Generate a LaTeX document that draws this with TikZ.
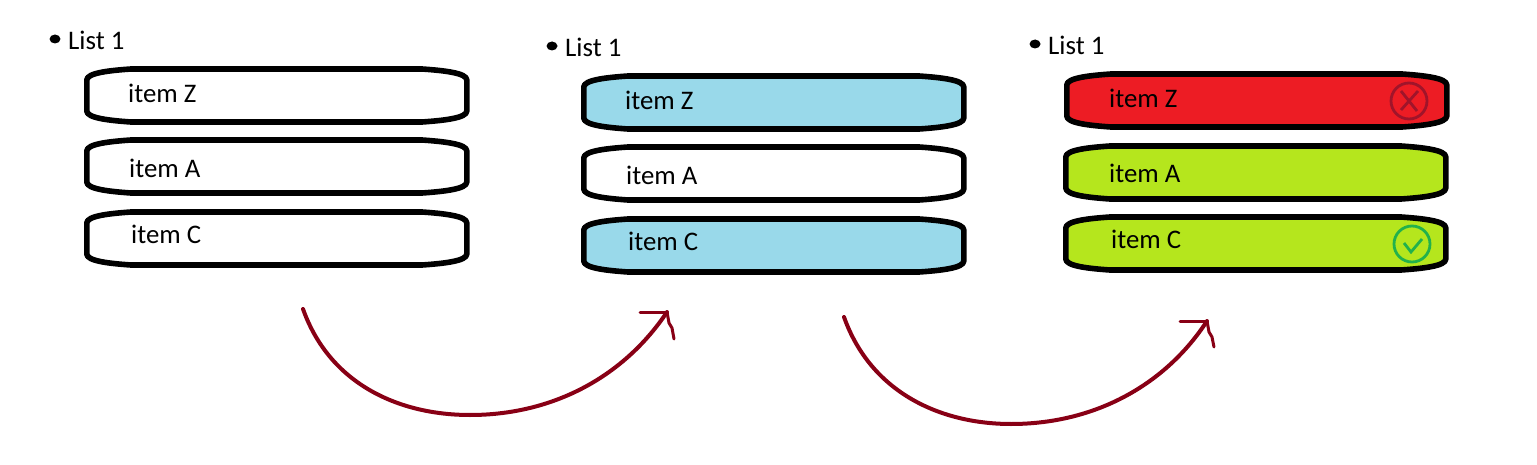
\documentclass[tikz,border=0pt]{standalone}
\usepackage{fontspec}
\setmainfont{Carlito}
\definecolor{barblue}{HTML}{99D9EA}
\definecolor{barred}{HTML}{ED1C24}
\definecolor{bargreen}{HTML}{B5E61D}
\definecolor{arcred}{HTML}{880015}
\definecolor{crossred}{HTML}{A0142A}
\definecolor{tickgreen}{HTML}{22B14C}
\tikzset{
  listtext/.style={anchor=west, inner sep=0pt, font=\fontsize{26.8}{30}\selectfont},
  arcline/.style={draw=arcred, line width=4pt, line cap=round, line join=round},
  headline/.style={draw=arcred, line width=3pt, line cap=round, line join=round},
  pics/listbar/.style={code={
    \draw[line width=5.6pt, line join=round, pic actions] (1.8,13) .. controls (1.8,6) and (24,3.5) .. (46,2)
      -- (337,2) .. controls (359,3.5) and (381.8,6) .. (381.8,13) -- (381.8,44)
      .. controls (381.8,51) and (359,53.5) .. (337,55) -- (46,55)
      .. controls (24,53.5) and (1.8,51) .. (1.8,44) -- cycle;
  }}
}

\begin{document}
\begin{tikzpicture}[x=1pt, y=-1pt]
    \useasboundingbox (0, 0) rectangle (1537, 465);
    % first list
    \fill (55, 39) circle [x radius=5.5, y radius=4.5];
    \node [listtext] (listone) at (68, 40) {List 1};
    \pic [fill=white] at (85, 67) {listbar};
    \pic [fill=white] at (85, 138) {listbar};
    \pic [fill=white] at (85, 210) {listbar};
    \node [listtext] (oneZ) at (128, 93) {item Z};
    \node [listtext] (oneA) at (129, 168) {item A};
    \node [listtext] (oneC) at (131, 234) {item C};
    % second list
    \fill (552, 46) circle [x radius=5.5, y radius=4.5];
    \node [listtext] (listtwo) at (565, 47) {List 1};
    \pic [fill=barblue] at (582, 74) {listbar};
    \pic [fill=white] at (582, 145) {listbar};
    \pic [fill=barblue] at (582, 217) {listbar};
    \node [listtext] (twoZ) at (625, 100) {item Z};
    \node [listtext] (twoA) at (626, 175) {item A};
    \node [listtext] (twoC) at (628, 241) {item C};
    % third list
    \fill (1035, 44) circle [x radius=5.5, y radius=4.5];
    \node [listtext] (listthree) at (1048, 45) {List 1};
    \pic [fill=barred] at (1065, 72) {listbar};
    \pic [fill=bargreen] at (1064, 144) {listbar};
    \pic [fill=bargreen] at (1064, 215) {listbar};
    \node [listtext] (threeZ) at (1109, 98) {item Z};
    \node [listtext] (threeA) at (1109, 173) {item A};
    \node [listtext] (threeC) at (1111, 239) {item C};
    % marks
    \draw [crossred, line width=2.8pt] (1409, 101) circle [radius=18];
    \draw [crossred, line width=2.8pt] (1401, 91) -- (1417, 111);
    \draw [crossred, line width=2.8pt] (1418, 91) -- (1401, 110);
    \draw [tickgreen, line width=2.8pt] (1412, 244) circle [radius=18];
    \draw [tickgreen, line width=2.8pt] (1404, 243) -- (1411, 252) -- (1422, 239);
    % arrows
    \coordinate (startone) at (303, 309);
    \coordinate (endone) at (667, 312);
    \coordinate (starttwo) at (844, 317);
    \coordinate (endtwo) at (1207, 321);
    \draw [arcline] (startone) .. controls (330, 385) and (400, 415) .. (470, 415)
      .. controls (555, 415) and (625, 375) .. (endone);
    \draw [headline] (endone) -- (640, 312);
    \draw [headline] (endone) -- (669, 323) -- (672, 328) -- (674, 339);
    \draw [arcline] (starttwo) .. controls (871, 393) and (941, 424) .. (1011, 424)
      .. controls (1096, 424) and (1166, 384) .. (endtwo);
    \draw [headline] (endtwo) -- (1180, 321);
    \draw [headline] (endtwo) -- (1209, 332) -- (1212, 337) -- (1214, 347);
  \end{tikzpicture}
\end{document}
